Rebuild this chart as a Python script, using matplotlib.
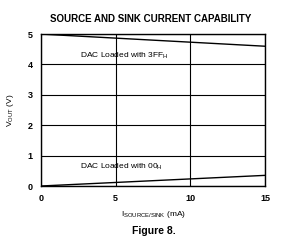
import matplotlib
matplotlib.use("Agg")
import matplotlib.pyplot as plt

# data
i_ma = [0, 15]
vout_3ff = [5.0, 4.6]
vout_00 = [0.0, 0.35]
x_ticks = [0, 5, 10, 15]
y_ticks = [0, 1, 2, 3, 4, 5]

plt.rcParams["font.family"] = ["Liberation Sans", "DejaVu Sans"]

fig = plt.figure(figsize=(2.96, 2.4), dpi=100)
ax = fig.add_axes([0.1385, 0.225, 0.757, 0.633])

ax.plot(i_ma, vout_3ff, color="black", lw=1.0)
ax.plot(i_ma, vout_00, color="black", lw=1.0)

ax.set_xlim(0, 15)
ax.set_ylim(0, 5)
ax.set_xticks(x_ticks)
ax.set_yticks(y_ticks)
ax.grid(True, color="black", lw=0.8)
ax.tick_params(length=0, labelsize=6.5, pad=6)
for lbl in ax.get_xticklabels() + ax.get_yticklabels():
    lbl.set_fontweight("bold")
for s in ax.spines.values():
    s.set_linewidth(1.0)

ax.text(2.6, 4.28, r"DAC Loaded with 3FF$_{\mathregular{H}}$", fontsize=6, va="center")
ax.text(2.6, 0.62, r"DAC Loaded with 00$_{\mathregular{H}}$", fontsize=6, va="center")

ax.set_xlabel(r"I$_{\mathregular{SOURCE/SINK}}$ (mA)", fontsize=6, labelpad=4)
ax.set_ylabel(r"V$_{\mathregular{OUT}}$ (V)", fontsize=6, labelpad=8)

fig.text(0.51, 0.92, "SOURCE AND SINK CURRENT CAPABILITY", ha="center",
         va="center", fontsize=7, fontweight="bold")
fig.text(0.52, 0.038, "Figure 8.", ha="center", va="center", fontsize=7.5,
         fontweight="bold")

fig.savefig("out.png", dpi=100)
